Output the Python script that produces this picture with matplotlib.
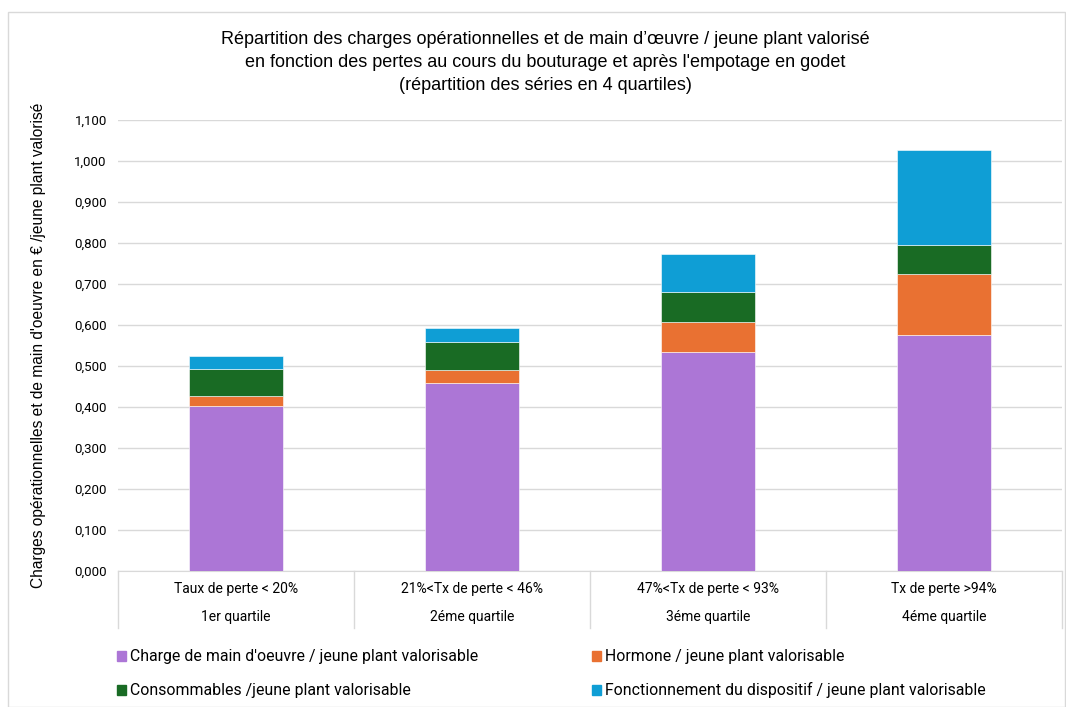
import matplotlib.pyplot as plt
from matplotlib.patches import Rectangle
from matplotlib.ticker import FuncFormatter

# Data (EUR / jeune plant valorise)
quartiles = ['1er quartile', '2éme quartile', '3éme quartile', '4éme quartile']
taux = ['Taux de perte < 20%', '21%<Tx de perte < 46%',
        '47%<Tx de perte < 93%', 'Tx de perte >94%']
main_oeuvre = [0.403, 0.458, 0.535, 0.575]
hormone = [0.025, 0.033, 0.073, 0.149]
consommables = [0.065, 0.068, 0.073, 0.070]
fonctionnement = [0.031, 0.033, 0.091, 0.232]

series = [
    ("Charge de main d'oeuvre / jeune plant valorisable", main_oeuvre, '#AC76D6'),
    ('Hormone / jeune plant valorisable', hormone, '#E97132'),
    ('Consommables /jeune plant valorisable', consommables, '#196B24'),
    ('Fonctionnement du dispositif / jeune plant valorisable', fonctionnement, '#0F9ED5'),
]

plt.rcParams['font.family'] = ['Liberation Sans', 'DejaVu Sans']
NARROW = ['Roboto', 'DejaVu Sans']

W, H = 1066, 707
fig = plt.figure(figsize=(W / 100, H / 100), dpi=100)
fig.patches.append(Rectangle((8 / W, 0), 1 - 9 / W, 1 - 12 / H, transform=fig.transFigure,
                             fill=False, edgecolor='#D9D9D9', linewidth=1))

ax = fig.add_axes([118 / W, 1 - 571 / H, (1062 - 118) / W, (571 - 120) / H])
x = list(range(len(quartiles)))
bottom = [0.0] * len(x)
for name, vals, col in series:
    ax.bar(x, vals, width=0.4, bottom=bottom, color=col, edgecolor='white',
           linewidth=0.4, zorder=3)
    bottom = [b + v for b, v in zip(bottom, vals)]

ax.set_xlim(-0.5, len(x) - 0.5)
ax.set_ylim(0, 1.1)
ax.set_yticks([i / 10 for i in range(12)])
ax.yaxis.set_major_formatter(FuncFormatter(lambda v, p: ('%.3f' % v).replace('.', ',')))
ax.tick_params(axis='y', length=0, pad=8, labelsize=9.5)
for lab in ax.get_yticklabels():
    lab.set_family(NARROW)
ax.grid(axis='y', color='#D9D9D9', linewidth=1, zorder=0)
ax.set_xticks([])
for s in ['left', 'right', 'top']:
    ax.spines[s].set_visible(False)
ax.spines['bottom'].set_color('#D9D9D9')

# category table under the axis
trans = ax.get_xaxis_transform()
for b in range(len(x) + 1):
    ax.plot([b - 0.5, b - 0.5], [0, -57 / 451], transform=trans,
            color='#D9D9D9', linewidth=1, clip_on=False)
for i in x:
    ax.text(i, -18 / 451, taux[i], transform=trans, ha='center', va='center',
            fontsize=10, family=NARROW)
    ax.text(i, -46 / 451, quartiles[i], transform=trans, ha='center', va='center',
            fontsize=10, family=NARROW)

ax.set_ylabel("Charges opérationnelles et de main d'oeuvre en € /jeune plant valorisé",
              fontsize=11.2)
ax.yaxis.set_label_coords(-72 / 944, 0.5)

fig.text(545 / W, 1 - 31 / H, "Répartition des charges opérationnelles et de main d’œuvre / jeune plant valorisé\n"
         "en fonction des pertes au cours du bouturage et après l'empotage en godet\n"
         "(répartition des séries en 4 quartiles)",
         ha='center', va='top', fontsize=13, linespacing=1.45)

# legend, two columns
pos = [(117, 656), (592, 656), (117, 690), (592, 690)]
for (px, py), (name, vals, col) in zip(pos, series):
    fig.patches.append(Rectangle((px / W, 1 - (py + 5) / H), 9 / W, 10 / H,
                                 transform=fig.transFigure, color=col))
    fig.text((px + 13) / W, 1 - py / H, name, ha='left', va='center',
             fontsize=11.4, family=NARROW)

fig.savefig('out.png', dpi=100)
